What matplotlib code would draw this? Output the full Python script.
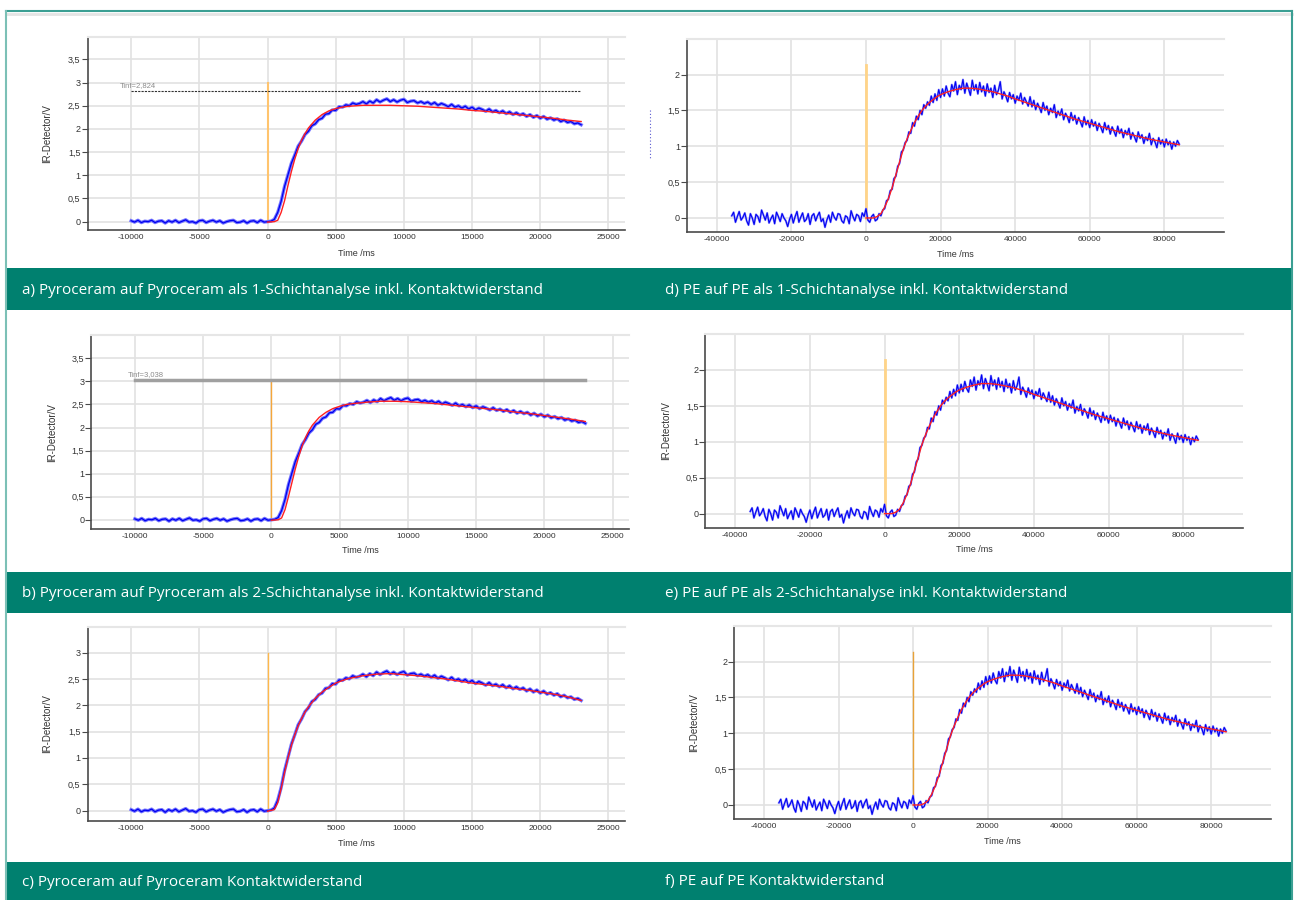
import numpy as np
import matplotlib
matplotlib.use("Agg")
import matplotlib.pyplot as plt
from matplotlib.patches import Rectangle
from matplotlib.lines import Line2D
from matplotlib.ticker import FuncFormatter

plt.rcParams["axes.unicode_minus"] = False

# ---------------- data ----------------
# Pyroceram measurement (same raw signal in a, b, c)
pyro_t0 = -10000
pyro_dt = 250
pyro_meas = [
    0.02, -0.01, 0.03, -0.02, 0.01, 0.00, 0.03, -0.02, 0.01, 0.02,
    -0.03, 0.02, -0.01, 0.03, -0.02, 0.01, 0.04, -0.01, 0.00, -0.03,
    0.02, 0.03, -0.02, 0.01, 0.03, -0.01, 0.02, -0.03, 0.00, 0.02,
    0.03, -0.02, -0.01, 0.02, -0.03, 0.01, 0.02, -0.02, 0.03, -0.01,
    0.00,
    0.01, 0.05, 0.20, 0.44, 0.76, 1.01, 1.26, 1.44, 1.63, 1.74,
    1.88, 1.95, 2.07, 2.11, 2.20, 2.23, 2.32, 2.33, 2.41, 2.40,
    2.48, 2.47,
    2.52, 2.50, 2.56, 2.53, 2.55, 2.59, 2.54, 2.60, 2.56, 2.63,
    2.58, 2.62, 2.65, 2.59, 2.63, 2.58, 2.62, 2.64, 2.57, 2.60,
    2.61, 2.56, 2.59, 2.55, 2.58, 2.53, 2.57, 2.51, 2.55, 2.52,
    2.48, 2.53, 2.47, 2.50, 2.45, 2.49, 2.43, 2.47, 2.41, 2.45,
    2.42, 2.38, 2.43, 2.37, 2.40, 2.35, 2.39, 2.33, 2.37, 2.31,
    2.35, 2.30, 2.33, 2.27, 2.31, 2.25, 2.29, 2.23, 2.27, 2.21,
    2.24, 2.19, 2.22, 2.16, 2.19, 2.14, 2.16, 2.11, 2.13, 2.09,
]
pyro_fit_t = [0, 500, 750, 1000, 1250, 1500, 1750, 2000, 2250, 2500, 2750, 3000,
              3500, 4000, 4500, 5000, 5500, 6000, 7000, 8000, 9000, 10000,
              11000, 12000, 13000, 14000, 15000, 16000, 17000, 18000, 19000,
              20000, 21000, 22000, 23000]
pyro_fit_a = [-0.01, 0.0, 0.03, 0.20, 0.45, 0.78, 1.08, 1.35, 1.58, 1.76, 1.90, 2.02,
              2.19, 2.31, 2.39, 2.44, 2.47, 2.49, 2.51, 2.51, 2.51, 2.50,
              2.49, 2.47, 2.45, 2.43, 2.40, 2.38, 2.35, 2.32, 2.29,
              2.26, 2.23, 2.19, 2.16]
pyro_fit_b = [-0.01, 0.0, 0.04, 0.22, 0.50, 0.80, 1.10, 1.37, 1.60, 1.78, 1.93, 2.05,
              2.22, 2.33, 2.41, 2.46, 2.50, 2.52, 2.55, 2.57, 2.57, 2.56,
              2.54, 2.52, 2.49, 2.46, 2.43, 2.40, 2.37, 2.33, 2.30,
              2.26, 2.22, 2.18, 2.13]
pyro_fit_c = [-0.01, 0.02, 0.15, 0.42, 0.72, 1.00, 1.24, 1.44, 1.61, 1.75, 1.87, 1.97,
              2.13, 2.25, 2.34, 2.42, 2.47, 2.51, 2.56, 2.59, 2.60, 2.58,
              2.56, 2.53, 2.50, 2.46, 2.42, 2.39, 2.36, 2.32, 2.29,
              2.25, 2.21, 2.16, 2.09]
tinf_a = 2.824
tinf_b = 3.038

# PE measurement (same raw signal in d, e, f), 500 ms sampling from -36000 ms
pe_t0 = -36000
pe_dt = 500
pe_meas = [
    # -36000 .. 0
    0.03, 0.08, -0.06, 0.02, 0.09, -0.03, 0.01, 0.07, -0.04, -0.10,
    0.06, 0.00, -0.09, 0.05, 0.02, -0.06, 0.11, 0.04, -0.03, 0.07,
    -0.07, -0.01, 0.04, -0.08, 0.08, 0.02, -0.05, 0.06, 0.00, -0.04,
    -0.12, -0.02, 0.05, -0.07, 0.02, 0.09, -0.06, 0.01, 0.07, -0.05,
    -0.02, 0.06, -0.09, 0.03, 0.06, -0.04, 0.03, 0.08, -0.05, -0.01,
    -0.13, -0.03, 0.04, -0.06, 0.08, 0.01, -0.03, 0.06, 0.05, -0.04,
    -0.07, 0.03, 0.01, -0.08, 0.10, 0.02, -0.04, 0.05, 0.03, -0.05,
    0.07, 0.02, 0.13,
    # 500 .. 20000
    -0.03, -0.06, 0.02, 0.05, -0.04, -0.02, 0.06, 0.03, 0.11, 0.13,
    0.24, 0.26, 0.38, 0.40, 0.55, 0.58, 0.72, 0.76, 0.92, 0.95,
    1.05, 1.08, 1.20, 1.18, 1.33, 1.28, 1.42, 1.37, 1.50, 1.44,
    1.58, 1.53, 1.62, 1.57, 1.70, 1.61, 1.73, 1.64, 1.79, 1.68,
    # 20500 .. 40000
    1.80, 1.70, 1.84, 1.74, 1.69, 1.86, 1.77, 1.90, 1.72, 1.85,
    1.79, 1.93, 1.74, 1.88, 1.80, 1.71, 1.92, 1.78, 1.86, 1.73,
    1.89, 1.76, 1.84, 1.70, 1.87, 1.75, 1.81, 1.68, 1.85, 1.72,
    1.78, 1.90, 1.66, 1.76, 1.70, 1.62, 1.75, 1.66, 1.72, 1.60,
    # 40500 .. 60000
    1.70, 1.64, 1.74, 1.59, 1.68, 1.62, 1.56, 1.69, 1.55, 1.64,
    1.51, 1.60, 1.54, 1.47, 1.61, 1.50, 1.56, 1.44, 1.53, 1.47,
    1.58, 1.40, 1.49, 1.43, 1.52, 1.37, 1.46, 1.41, 1.33, 1.47,
    1.36, 1.43, 1.31, 1.40, 1.34, 1.27, 1.41, 1.30, 1.36, 1.26,
    # 60500 .. 80000
    1.37, 1.28, 1.34, 1.22, 1.32, 1.26, 1.19, 1.33, 1.23, 1.29,
    1.17, 1.27, 1.21, 1.14, 1.28, 1.18, 1.24, 1.12, 1.22, 1.16,
    1.25, 1.10, 1.19, 1.13, 1.06, 1.20, 1.11, 1.16, 1.04, 1.13,
    1.08, 1.18, 1.02, 1.11, 1.06, 0.98, 1.12, 1.03, 1.09, 0.99,
    # 80500 .. 84000
    1.10, 1.02, 1.07, 0.96, 1.06, 1.00, 1.08, 1.03,
]
pe_fit_t = [0, 2000, 3000, 4000, 5000, 6000, 7000, 8000, 9000, 10000, 11000, 12000,
            13000, 14000, 15000, 16000, 17000, 18000, 19000, 20000, 22000, 24000,
            26000, 28000, 30000, 32000, 34000, 36000, 38000, 40000, 44000, 48000,
            52000, 56000, 60000, 64000, 68000, 72000, 76000, 80000, 84000]
pe_fit = [0.0, 0.0, 0.02, 0.06, 0.15, 0.27, 0.42, 0.60, 0.78, 0.96, 1.10, 1.22,
          1.33, 1.42, 1.50, 1.56, 1.61, 1.65, 1.69, 1.72, 1.76, 1.79,
          1.81, 1.81, 1.80, 1.78, 1.76, 1.73, 1.70, 1.66, 1.59, 1.52,
          1.45, 1.38, 1.32, 1.26, 1.20, 1.15, 1.10, 1.06, 1.02]

captions = [
    "a) Pyroceram auf Pyroceram als 1-Schichtanalyse inkl. Kontaktwiderstand",
    "b) Pyroceram auf Pyroceram als 2-Schichtanalyse inkl. Kontaktwiderstand",
    "c) Pyroceram auf Pyroceram Kontaktwiderstand",
    "d) PE auf PE als 1-Schichtanalyse inkl. Kontaktwiderstand",
    "e) PE auf PE als 2-Schichtanalyse inkl. Kontaktwiderstand",
    "f) PE auf PE Kontaktwiderstand",
]
pyro_xticks = [-10000, -5000, 0, 5000, 10000, 15000, 20000, 25000]
pe_xticks = [-40000, -20000, 0, 20000, 40000, 60000, 80000]

# ---------------- figure ----------------
W, H = 1298, 900
fig = plt.figure(figsize=(W / 100, H / 100), dpi=100)
fig.patch.set_facecolor("white")

TEAL = "#00806f"
FRAME = "#3b9f93"

def fx(px):
    return px / W

def fy(py):
    return 1 - py / H

# frame lines
fig.add_artist(Line2D([fx(6), fx(1292)], [fy(11), fy(11)], color=FRAME, lw=1.5))
fig.add_artist(Line2D([fx(6), fx(1292)], [fy(13.5), fy(13.5)], color="#e4e4e4", lw=2))
fig.add_artist(Line2D([fx(6), fx(6)], [fy(11), fy(900)], color="#7cc0b6", lw=1.5))
fig.add_artist(Line2D([fx(1292), fx(1292)], [fy(11), fy(900)], color=FRAME, lw=1.5))

# caption bars
bars = [(268, 310), (572, 613), (862, 900)]
for i, (t, b) in enumerate(bars):
    fig.add_artist(Rectangle((fx(6), fy(b)), fx(1292 - 6), (b - t) / H,
                             facecolor=TEAL, edgecolor="none"))
    yc = fy((t + b) / 2 + 1)
    fig.text(fx(22), yc, captions[i], color="white", fontsize=11,
             family="Open Sans", va="center", ha="left")
    fig.text(fx(665), yc, captions[i + 3], color="white", fontsize=11,
             family="Open Sans", va="center", ha="left")

comma = FuncFormatter(lambda v, p: ("%g" % v).replace(".", ","))

def style_axes(ax, xlim, ylim, xticks, yticks, ylabel_x, xlabel_y, show_ylabel=True):
    ax.set_xlim(*xlim)
    ax.set_ylim(*ylim)
    ax.set_xticks(xticks)
    ax.set_yticks(yticks)
    ax.yaxis.set_major_formatter(comma)
    ax.grid(True, color="#e2e2e2", lw=1.2)
    ax.set_axisbelow(True)
    for s in ("left", "bottom"):
        ax.spines[s].set_color("#4a4a4a")
        ax.spines[s].set_linewidth(1.2)
    ax.spines["right"].set_visible(False)
    ax.spines["top"].set_color("#e6e6e6")
    ax.spines["top"].set_linewidth(1.5)
    ax.tick_params(axis="x", length=0, pad=3, labelsize=6, labelcolor="#333333")
    ax.tick_params(axis="y", length=4, width=0.8, color="#4a4a4a", pad=1,
                   labelsize=6.5, labelcolor="#333333")
    ax.set_xlabel("Time /ms", fontsize=6.5, color="#333333", family="Liberation Sans")
    ax.xaxis.set_label_coords(0.5, xlabel_y)
    if show_ylabel:
        ax.set_ylabel("IR-Detector/V", fontsize=7, color="#333333", family="Liberation Sans")
        ax.yaxis.set_label_coords(ylabel_x, 0.5)
    for lab in ax.get_xticklabels() + ax.get_yticklabels():
        lab.set_family("Liberation Sans")

def axes_px(left, right, top, bottom):
    return fig.add_axes([fx(left), fy(bottom), (right - left) / W, (bottom - top) / H])

pyro_t = pyro_t0 + pyro_dt * np.arange(len(pyro_meas))
pe_t = pe_t0 + pe_dt * np.arange(len(pe_meas))

def draw_pyro(ax, fit, orange_top, orange_col, orange_lw):
    ax.plot([0, 0], [0, orange_top], color=orange_col, lw=orange_lw, zorder=2)
    ax.plot(pyro_t, pyro_meas, color="#7474ff", lw=2.4, zorder=3)
    ax.plot(pyro_t, pyro_meas, color="#0000f0", lw=0.9, zorder=4)
    ax.plot(pyro_fit_t, fit, color="#ff2020", lw=1.0, zorder=5)

def draw_pe(ax, orange_top, orange_col, orange_lw):
    ax.plot([0, 0], [0, orange_top], color=orange_col, lw=orange_lw, zorder=2)
    ax.plot(pe_t, pe_meas, color="#8a8aff", lw=1.5, zorder=3)
    ax.plot(pe_t, pe_meas, color="#0000f0", lw=0.75, zorder=4)
    ax.plot(pe_fit_t, pe_fit, color="#ff2020", lw=1.0, zorder=5)

pyro_xlim = (-13200, 26200)
pe_xlim = (-48000, 96000)

# a)
ax = axes_px(87.5, 624.8, 36.7, 230)
style_axes(ax, pyro_xlim, (-0.18, 3.99), pyro_xticks, [0, 0.5, 1, 1.5, 2, 2.5, 3, 3.5],
           -0.065, -0.096)
draw_pyro(ax, pyro_fit_a, 3.0, "#ffc46e", 1.5)
ax.plot([-10000, 23000], [tinf_a, tinf_a], color="#333333", lw=0.8, ls=(0, (2, 1)), zorder=3)
ax.text(-10800, 2.94, "Tinf=" + ("%.3f" % tinf_a).replace(".", ","), fontsize=5.5,
        color="#8c8c8c", va="center", ha="left", family="Liberation Sans")

# b)
ax = axes_px(91.2, 629, 335.3, 529)
style_axes(ax, pyro_xlim, (-0.2, 4.0), pyro_xticks, [0, 0.5, 1, 1.5, 2, 2.5, 3, 3.5],
           -0.064, -0.088)
draw_pyro(ax, pyro_fit_b, tinf_b, "#f5a63a", 1.0)
ax.plot([-10000, 23000], [tinf_b, tinf_b], color="#a0a0a0", lw=2.5, zorder=3)
ax.text(-10550, 3.15, "Tinf=" + ("%.3f" % tinf_b).replace(".", ","), fontsize=5.5,
        color="#8c8c8c", va="center", ha="left", family="Liberation Sans")

# c)
ax = axes_px(87.5, 624.8, 626.7, 820.7)
style_axes(ax, pyro_xlim, (-0.19, 3.49), pyro_xticks, [0, 0.5, 1, 1.5, 2, 2.5, 3],
           -0.065, -0.092)
draw_pyro(ax, pyro_fit_c, 3.0, "#ffb84a", 1.0)

# d)
ax = axes_px(687, 1224, 38.7, 232.3)
style_axes(ax, pe_xlim, (-0.2, 2.5), pe_xticks, [0, 0.5, 1, 1.5, 2],
           -0.064, -0.089, show_ylabel=False)
draw_pe(ax, 2.14, "#ffd488", 2.0)
fig.add_artist(Line2D([fx(650), fx(650)], [fy(110), fy(160)], color="#5a5ad0",
                      lw=0.8, ls=(0, (1, 2))))

# e)
ax = axes_px(705.4, 1242.9, 334, 528)
style_axes(ax, pe_xlim, (-0.2, 2.5), pe_xticks, [0, 0.5, 1, 1.5, 2],
           -0.064, -0.09)
draw_pe(ax, 2.14, "#ffd488", 2.0)

# f)
ax = axes_px(734.2, 1270.8, 625.7, 819.3)
style_axes(ax, pe_xlim, (-0.2, 2.5), pe_xticks, [0, 0.5, 1, 1.5, 2],
           -0.0656, -0.09)
draw_pe(ax, 2.14, "#e8a238", 1.0)

fig.savefig("out.png", dpi=100, facecolor="white")
